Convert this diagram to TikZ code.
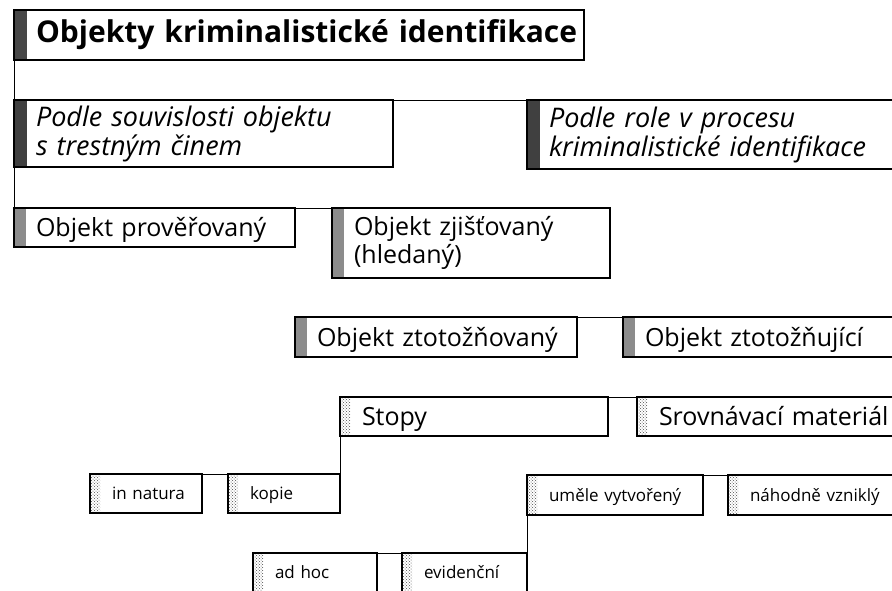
\documentclass[tikz,border=0pt]{standalone}
\usepackage{fontspec}
\setmainfont{Open Sans}
\usetikzlibrary{patterns}

\begin{document}
\begin{tikzpicture}[x=1pt, y=-1pt,
  box/.style={draw, line width=1.5pt, fill=white, anchor=north west,
    outer sep=0pt, inner xsep=22pt, inner ysep=0pt, align=left,
    execute at begin node={\hyphenpenalty=10000\relax}},
  wd/.code={\pgfmathsetlengthmacro\boxtw{#1-44pt}%
    \tikzset{minimum width=#1, text width/.expanded=\boxtw}},
  bar/.style 2 args={path picture={\fill[#2] (path picture bounding box.north west)
    rectangle ([xshift=#1]path picture bounding box.south west);}},
  head node/.style={box, bar={13pt}{black!72}, text height=24pt, text depth=10pt,
    font=\fontsize{30}{36}\selectfont\bfseries},
  crit node/.style={box, bar={13pt}{black!75}, font=\fontsize{27}{29}\selectfont\itshape},
  obj two/.style={box, bar={12pt}{black!45}, font=\fontsize{25}{28}\selectfont},
  obj node/.style={obj two, text height=18pt, text depth=0pt},
  mat node/.style={box, bar={10pt}{pattern=crosshatch dots, pattern color=black!70},
    text height=18pt, text depth=0pt, font=\fontsize{25}{28}\selectfont},
  leaf node/.style={box, bar={10pt}{pattern=crosshatch dots, pattern color=black!70},
    text height=12pt, text depth=0pt, font=\fontsize{17}{20}\selectfont},
  link/.style={line width=0.8pt}]

\useasboundingbox (0,0) rectangle (892,590);

\node[head node, wd=570pt, minimum height=50pt] (head) at (14,10) {Objekty~kriminalistické~identifikace};

\node[crit node, wd=379pt, minimum height=67pt] (souvis) at (14,100) {Podle~souvislosti~objektu\\s~trestným~činem};
\node[crit node, wd=420pt, minimum height=69pt] (role) at (527,100) {Podle~role~v~procesu\\kriminalistické~identifikace};

\node[obj node, wd=281pt, minimum height=39pt] (prover) at (14,208) {Objekt~prověřovaný};
\node[obj two, wd=278pt, minimum height=70pt] (zjist) at (332,208) {Objekt~zjišťovaný\\(hledaný)};
\node[obj node, wd=282pt, minimum height=40pt] (ztozn) at (295,317) {Objekt~ztotožňovaný};
\node[obj node, wd=300pt, minimum height=40pt] (ztozu) at (623,317) {Objekt~ztotožňující};

\node[mat node, wd=268pt, minimum height=39pt] (stopy) at (340,397) {Stopy};
\node[mat node, wd=300pt, minimum height=39pt] (srovn) at (637,397) {Srovnávací~materiál};

\node[leaf node, wd=112pt, minimum height=39pt] (innat) at (90,474) {in~natura};
\node[leaf node, wd=112pt, minimum height=39pt] (kopie) at (228,474) {kopie};
\node[leaf node, wd=176pt, minimum height=40pt] (umele) at (527,475) {uměle~vytvořený};
\node[leaf node, wd=200pt, minimum height=40pt] (nahod) at (728,475) {náhodně~vzniklý};
\node[leaf node, wd=124pt, minimum height=39pt] (adhoc) at (253,553) {ad~hoc};
\node[leaf node, wd=125pt, minimum height=39pt] (evid) at (402,553) {evidenční};

% spojnice
\draw[link] (head.south west) -- (prover.north west);
\draw[link] (souvis.north east) -- (role.north west);
\draw[link] (prover.north east) -- (zjist.north west);
\draw[link] (ztozn.north east) -- (ztozu.north west);
\draw[link] (stopy.north east) -- (srovn.north west);
\draw[link] (stopy.south west) -- (kopie.south east);
\draw[link] (innat.north east) -- (kopie.north west);
\draw[link] (umele.north west) -- (evid.south east);
\draw[link] (adhoc.north east) -- (evid.north west);
\draw[link] (umele.north east) -- (nahod.north west);

\end{tikzpicture}
\end{document}
